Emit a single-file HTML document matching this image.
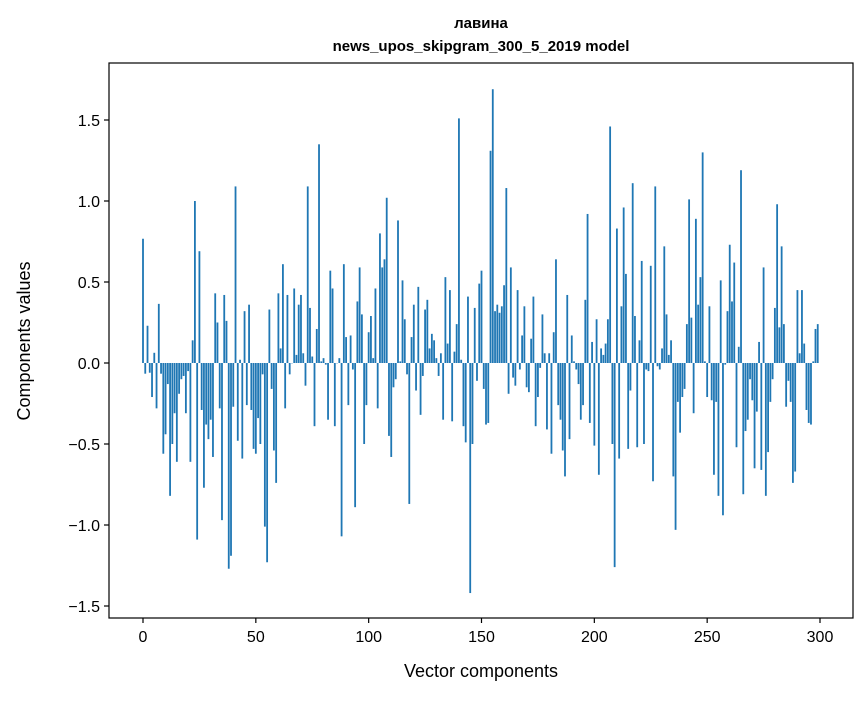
<!DOCTYPE html>
<html><head><meta charset="utf-8"><style>
body{margin:0;background:#fff;}
svg text{font-family:"Liberation Sans","DejaVu Sans",sans-serif;fill:#000;}
</style></head><body>
<svg id="chart" width="867" height="696" xmlns="http://www.w3.org/2000/svg">
<rect x="0" y="0" width="867" height="696" fill="#fff"/>
<text x="481" y="28" text-anchor="middle" font-size="15" font-weight="bold">лавина</text>
<text x="481" y="51" text-anchor="middle" font-size="15" font-weight="bold">news_upos_skipgram_300_5_2019 model</text>
<g id="bars"></g>
<g id="axes"></g>
<text x="481" y="677" text-anchor="middle" font-size="18">Vector components</text>
<text transform="translate(30,341) rotate(-90)" text-anchor="middle" font-size="18">Components values</text>
</svg>
<script>
const values = [
0.767,-0.066,0.23,-0.06,-0.21,0.063,-0.28,0.365,-0.066,-0.56,
-0.44,-0.13,-0.82,-0.5,-0.31,-0.61,-0.19,-0.1,-0.08,-0.31,
-0.05,-0.61,0.14,1.0,-1.09,0.69,-0.29,-0.77,-0.38,-0.47,
-0.35,-0.58,0.43,0.25,-0.28,-0.97,0.42,0.26,-1.27,-1.19,
-0.27,1.09,-0.48,0.02,-0.59,0.32,-0.26,0.36,-0.29,-0.53,
-0.56,-0.34,-0.5,-0.07,-1.01,-1.23,0.33,-0.16,-0.54,-0.74,
0.43,0.09,0.61,-0.28,0.42,-0.07,0.0,0.46,0.05,0.36,
0.42,0.06,-0.14,1.09,0.34,0.04,-0.39,0.21,1.35,0.01,
0.03,-0.01,-0.35,0.57,0.46,-0.39,0.0,0.03,-1.07,0.61,
0.16,-0.26,0.17,-0.04,-0.89,0.38,0.59,0.3,-0.5,-0.26,
0.19,0.29,0.03,0.46,-0.28,0.8,0.59,0.64,1.02,-0.45,
-0.58,-0.15,-0.1,0.88,0.01,0.51,0.27,-0.07,-0.87,0.16,
0.36,-0.17,0.47,-0.32,-0.08,0.33,0.39,0.09,0.18,0.14,
0.03,-0.08,0.06,-0.35,0.53,0.12,0.45,-0.36,0.07,0.24,
1.51,0.02,-0.39,-0.49,0.41,-1.42,-0.5,0.34,-0.11,0.49,
0.57,-0.16,-0.38,-0.37,1.31,1.69,0.32,0.36,0.31,0.35,
0.48,1.08,-0.19,0.59,-0.09,-0.14,0.45,-0.04,0.17,0.35,
-0.15,-0.18,0.15,0.41,-0.39,-0.21,-0.03,0.3,0.06,-0.41,
0.06,-0.56,0.19,0.64,-0.26,-0.35,-0.54,-0.7,0.42,-0.47,
0.17,0.01,-0.04,-0.13,-0.35,-0.26,0.39,0.92,-0.37,0.13,
-0.51,0.27,-0.69,0.09,0.05,0.12,0.27,1.46,-0.5,-1.26,
0.83,-0.59,0.35,0.96,0.55,-0.53,-0.17,1.11,0.29,-0.52,
0.14,0.63,-0.5,-0.04,-0.05,0.6,-0.73,1.09,-0.02,-0.04,
0.09,0.72,0.3,0.05,0.14,-0.7,-1.03,-0.24,-0.43,-0.21,
-0.16,0.24,1.01,0.28,-0.31,0.89,0.36,0.53,1.3,0.01,
-0.21,0.35,-0.23,-0.69,-0.24,-0.82,0.51,-0.94,-0.01,0.32,
0.73,0.38,0.62,-0.52,0.1,1.19,-0.81,-0.42,-0.35,-0.1,
-0.23,-0.65,-0.3,0.13,-0.66,0.59,-0.82,-0.55,-0.24,-0.1,
0.34,0.98,0.22,0.72,0.24,-0.27,-0.11,-0.24,-0.74,-0.67,
0.45,0.06,0.45,0.12,-0.29,-0.37,-0.38,0.01,0.21,0.24
];
const xTicks = [0,50,100,150,200,250,300];
const yTicks = [-1.5,-1.0,-0.5,0.0,0.5,1.0,1.5];
const yTickLabels = ["\u22121.5","\u22121.0","\u22120.5","0.0","0.5","1.0","1.5"];

const NS = "http://www.w3.org/2000/svg";
const L = 109, R = 853, T = 63, B = 618;
function xs(v){ return 143 + v * (820 - 143) / 300; }
function ys(v){ return 363 - v * (363 - 120) / 1.5; }

const bars = document.getElementById('bars');
const bw = 0.8 * (820 - 143) / 300;
values.forEach(function(v, i){
  const r = document.createElementNS(NS, 'rect');
  const y0 = ys(0), y1 = ys(v);
  r.setAttribute('x', xs(i) - bw / 2);
  r.setAttribute('y', Math.min(y0, y1));
  r.setAttribute('width', bw);
  r.setAttribute('height', Math.max(Math.abs(y1 - y0), 0.3));
  r.setAttribute('fill', '#1f77b4');
  
  
  bars.appendChild(r);
});

const axes = document.getElementById('axes');
const frame = document.createElementNS(NS, 'rect');
frame.setAttribute('x', L); frame.setAttribute('y', T);
frame.setAttribute('width', R - L); frame.setAttribute('height', B - T);
frame.setAttribute('fill', 'none'); frame.setAttribute('stroke', '#000'); frame.setAttribute('stroke-width', '1.2');


axes.appendChild(frame);

xTicks.forEach(function(t){
  const x = xs(t);
  const ln = document.createElementNS(NS, 'line');
  ln.setAttribute('x1', x); ln.setAttribute('x2', x);
  ln.setAttribute('y1', B); ln.setAttribute('y2', B + 5);
  ln.setAttribute('stroke', '#000'); ln.setAttribute('stroke-width', '1.2');
  
  
  axes.appendChild(ln);
  const tx = document.createElementNS(NS, 'text');
  tx.setAttribute('x', x); tx.setAttribute('y', B + 24);
  tx.setAttribute('text-anchor', 'middle'); tx.setAttribute('font-size', '16');
  tx.textContent = String(t);
  
  
  axes.appendChild(tx);
});
yTicks.forEach(function(t, k){
  const y = ys(t);
  const ln = document.createElementNS(NS, 'line');
  ln.setAttribute('x1', L - 5); ln.setAttribute('x2', L);
  ln.setAttribute('y1', y); ln.setAttribute('y2', y);
  ln.setAttribute('stroke', '#000'); ln.setAttribute('stroke-width', '1.2');
  
  
  axes.appendChild(ln);
  const tx = document.createElementNS(NS, 'text');
  tx.setAttribute('x', L - 9); tx.setAttribute('y', y + 6);
  tx.setAttribute('text-anchor', 'end'); tx.setAttribute('font-size', '16');
  tx.textContent = yTickLabels[k];
  
  
  axes.appendChild(tx);
});
</script>
</body></html>
